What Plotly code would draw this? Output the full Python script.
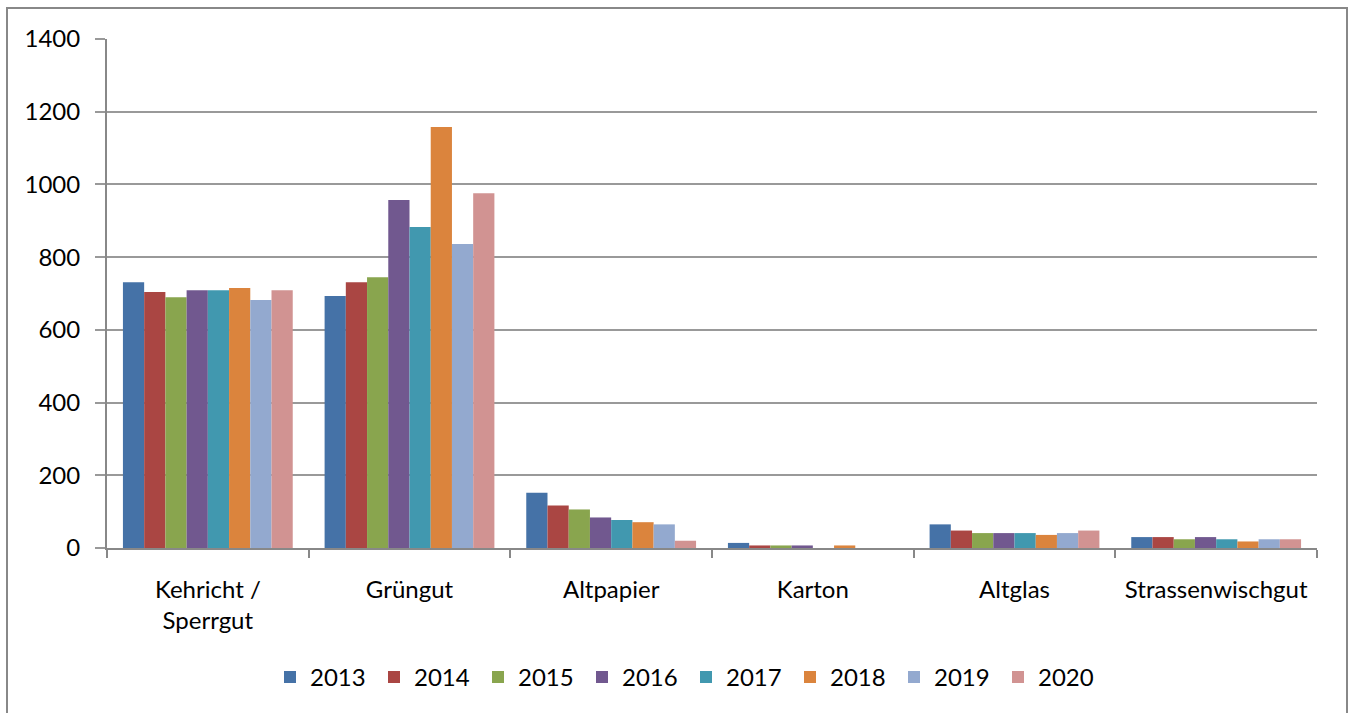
import plotly.graph_objects as go

# Categories and yearly values
categories = ['Kehricht /<br>Sperrgut', 'Grüngut', 'Altpapier', 'Karton', 'Altglas', 'Strassenwischgut']
years = ['2013', '2014', '2015', '2016', '2017', '2018', '2019', '2020']

v2013 = [731, 693, 152, 14, 65, 30]
v2014 = [704, 731, 117, 7, 48, 30]
v2015 = [690, 745, 106, 7, 41, 24]
v2016 = [709, 957, 84, 7, 41, 30]
v2017 = [709, 883, 77, 0, 41, 24]
v2018 = [715, 1158, 71, 7, 36, 18]
v2019 = [682, 836, 65, 0, 41, 24]
v2020 = [709, 976, 20, 0, 48, 24]

series = [v2013, v2014, v2015, v2016, v2017, v2018, v2019, v2020]

# Excel 2007 style palette
colors = ['#4572A7', '#AA4643', '#89A54E', '#71588F', '#4198AF', '#DB843D', '#93A9CF', '#D19392']

font_family = 'Lato, "Open Sans", sans-serif'

# plot area in pixels (left, right, top, bottom)
L, R, T, B = 107, 1317, 39, 548
W, H = R - L, B - T

fig = go.Figure()

for year, vals, col in zip(years, series, colors):
    fig.add_trace(go.Bar(
        x=categories,
        y=vals,
        name=year,
        marker=dict(color=col, line=dict(width=0)),
    ))

fig.update_layout(
    width=1352,
    height=713,
    barmode='group',
    bargap=0.158,
    bargroupgap=0,
    plot_bgcolor='white',
    paper_bgcolor='white',
    margin=dict(l=L, r=1352 - R, t=T, b=713 - B),
    font=dict(family=font_family, size=24, color='#000000'),
    showlegend=True,
    legend=dict(
        orientation='h',
        x=(686 - L) / W, xanchor='center',
        y=-0.21, yanchor='top',
        font=dict(size=24),
        itemwidth=30,
        entrywidth=59,
        traceorder='normal',
    ),
    xaxis=dict(
        type='category',
        showgrid=False,
        showline=True,
        linecolor='#888888',
        linewidth=2,
        ticks='outside',
        tickson='boundaries',
        ticklen=8,
        tickcolor='#888888',
        tickwidth=2,
        ticklabelstandoff=19,
        tickfont=dict(size=24),
    ),
    yaxis=dict(
        range=[0, 1400],
        dtick=200,
        showgrid=True,
        gridcolor='#999999',
        gridwidth=1.5,
        showline=True,
        linecolor='#888888',
        linewidth=2,
        ticks='outside',
        ticklen=10,
        tickcolor='#999999',
        tickwidth=1.5,
        zeroline=False,
        ticklabelstandoff=10,
        tickfont=dict(size=24),
    ),
    shapes=[
        dict(
            type='rect', xref='paper', yref='paper',
            x0=(7 - L) / W, x1=(1347 - L) / W,
            y0=(B - 730) / H, y1=(B - 8) / H,
            line=dict(color='#888888', width=2),
            fillcolor='rgba(0,0,0,0)',
            layer='below',
        )
    ],
)

# drop the default page margin so the figure sits at the window origin
fig.write_html('out.html', config={'displayModeBar': False},
               post_script="document.body.style.margin='0px';")
